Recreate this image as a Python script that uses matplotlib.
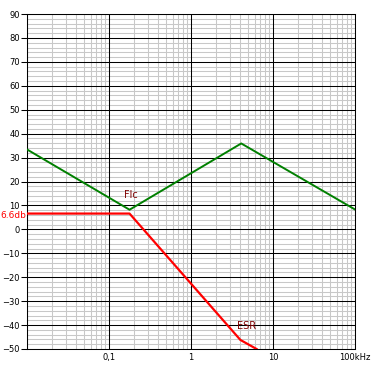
import matplotlib
matplotlib.use('Agg')
import matplotlib.pyplot as plt
from matplotlib.ticker import MultipleLocator, FixedLocator, LogLocator, NullFormatter

# Flc curve (dB vs kHz)
flc_freq = [0.01, 0.178, 4.1, 100]
flc_db = [33.4, 8.2, 35.9, 8.3]

# ESR curve
esr_freq = [0.01, 0.178, 4.0, 6.3]
esr_db = [6.6, 6.6, -46.2, -50]

x_ticks = [0.01, 0.1, 1, 10, 100]
x_tick_labels = ['', '0,1', '1', '10', '100kHz']
y_ticks = list(range(-50, 91, 10))

GREEN = '#008000'
RED = '#ff0000'
MAROON = '#800000'

fig = plt.figure(figsize=(3.73, 3.69), dpi=100)
ax = fig.add_axes([27 / 373, 20 / 369, 328 / 373, 335 / 369])

ax.set_xscale('log')
ax.set_xlim(0.01, 100)
ax.set_ylim(-50, 90)

ax.set_xticks(x_ticks, x_tick_labels)
ax.xaxis.set_minor_locator(LogLocator(base=10, subs=range(2, 10), numticks=20))
ax.xaxis.set_minor_formatter(NullFormatter())
ax.yaxis.set_major_locator(FixedLocator(y_ticks))
ax.yaxis.set_minor_locator(MultipleLocator(2))

# light minor grid from the tick machinery, black major grid drawn on top of it
ax.grid(which='minor', color='#c8c8c8', linewidth=0.75)
ax.set_axisbelow(True)
for t in x_ticks:
    ax.axvline(t, color='black', linewidth=0.75, zorder=1.5)
for t in y_ticks:
    ax.axhline(t, color='black', linewidth=0.75, zorder=1.5)

ax.tick_params(which='minor', length=0)
ax.tick_params(axis='y', which='major', length=4, width=0.75, pad=1, labelsize=6)
ax.tick_params(axis='x', which='major', length=0, pad=3, labelsize=6)
for s in ax.spines.values():
    s.set_linewidth(0.75)

ax.plot(flc_freq, flc_db, color=GREEN, linewidth=1.4, zorder=3)
ax.plot(esr_freq, esr_db, color=RED, linewidth=1.6, zorder=3)

ax.text(0.183, 14.2, 'Flc', color=MAROON, fontsize=7, ha='center', va='center')
ax.text(4.7, -40.2, 'ESR', color=MAROON, fontsize=7, ha='center', va='center')
ax.text(-0.001, 6.0, '6.6db', color=RED, fontsize=6.5, ha='right', va='center',
        transform=ax.get_yaxis_transform())

fig.savefig('out.png', dpi=100)
